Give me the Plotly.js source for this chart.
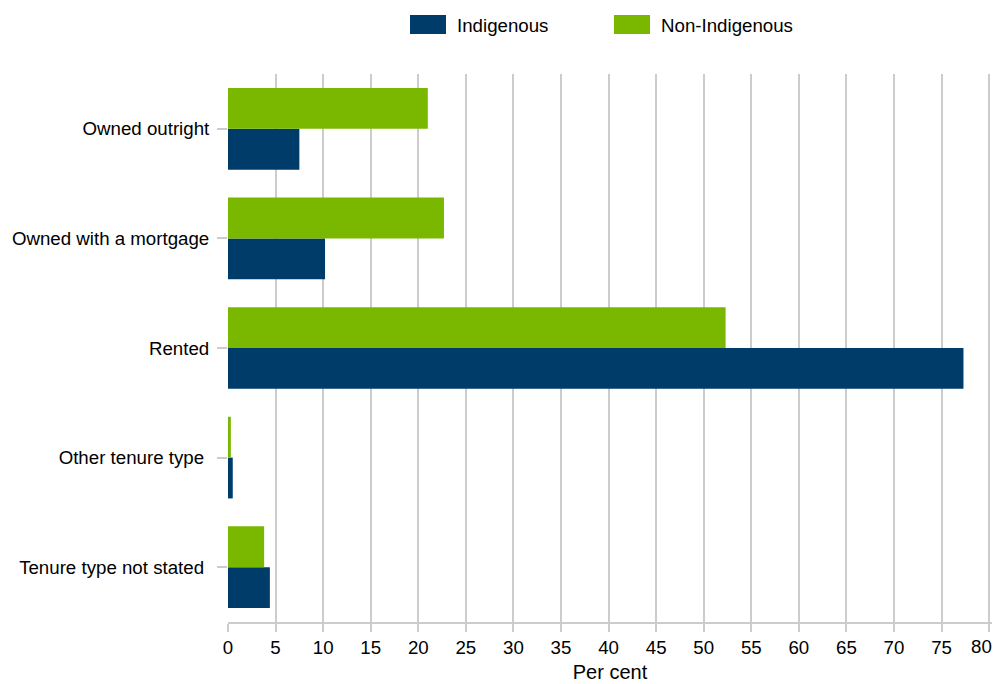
<!DOCTYPE html>
<html><head><meta charset="utf-8">
<script src="https://cdn.plot.ly/plotly-3.0.1.min.js"></script>
<style>html,body{margin:0;padding:0;background:#fff}#chart{width:998px;height:684px}</style>
</head><body><div id="chart"></div>
<script>
const categories = ["Owned outright", "Owned with a mortgage", "Rented", "Other tenure type", "Tenure type not stated"];
const categoryLabels = ["Owned outright", "Owned with a mortgage", "Rented", "Other tenure type\u00a0", "Tenure type not stated\u00a0"];
const seriesNames = ["Indigenous", "Non-Indigenous"];
const seriesColors = ["#003C69", "#7AB800"];
const indigenous = [7.5, 10.2, 77.3, 0.5, 4.4];
const nonIndigenous = [21.0, 22.7, 52.3, 0.3, 3.8];
const xTicks = [0,5,10,15,20,25,30,35,40,45,50,55,60,65,70,75,80];
const lastTick = xTicks[xTicks.length - 1];
// the last label is drawn as an annotation nudged left so it stays inside the page (as in the reference)
const xTickLabels = xTicks.map(v => v === lastTick ? '' : String(v));

const W = 998, H = 684, M = {l:228, r:6, t:74, b:62};
const pw = W - M.l - M.r, ph = H - M.t - M.b;
const px2x = p => (p - M.l) / pw;
const py2y = p => (H - M.b - p) / ph;

const traces = [
  {type:'bar', orientation:'h', name:seriesNames[0], y:categories, x:indigenous, marker:{color:seriesColors[0]}},
  {type:'bar', orientation:'h', name:seriesNames[1], y:categories, x:nonIndigenous, marker:{color:seriesColors[1]}}
];

// legend drawn as swatches + labels (larger swatches like the reference)
const legendSwatchLeft = [410, 614];
const shapes = [], annotations = [];
seriesNames.forEach((n, i) => {
  const x0 = legendSwatchLeft[i];
  shapes.push({type:'rect', xref:'paper', yref:'paper', x0:px2x(x0), x1:px2x(x0+36), y0:py2y(34), y1:py2y(15),
    fillcolor:seriesColors[i], line:{width:0}});
  annotations.push({xref:'paper', yref:'paper', x:px2x(x0+45), y:py2y(25), xanchor:'left', yanchor:'middle',
    text:n, showarrow:false, font:{size:18.7, color:'#000'}});
});
annotations.push({xref:'x', yref:'paper', x:lastTick, y:py2y(646), xanchor:'right', yanchor:'middle', xshift:5,
  text:String(lastTick), showarrow:false, font:{size:18.7, color:'#000'}});

const layout = {
  width:W, height:H,
  margin:M,
  barmode:'group', bargap:0.255, bargroupgap:0,
  paper_bgcolor:'#fff', plot_bgcolor:'#fff',
  font:{family:'"Liberation Sans", Arial, sans-serif', size:18.7, color:'#000'},
  showlegend:false,
  shapes:shapes, annotations:annotations,
  xaxis:{range:[0,80.3], tickvals:xTicks, ticktext:xTickLabels, showgrid:true, gridcolor:'#cccccc', gridwidth:2,
    zeroline:false, showline:true, linecolor:'#cccccc', linewidth:2, ticks:'outside', ticklen:8, tickcolor:'#cccccc', tickwidth:2,
    title:{text:'Per cent', font:{size:20}, standoff:8}, fixedrange:true, automargin:false},
  yaxis:{type:'category', categoryorder:'array', categoryarray:categories.slice().reverse(),
    tickvals:categories, ticktext:categoryLabels, showgrid:false, zeroline:false,
    ticks:'outside', ticklen:10, tickcolor:'#cccccc', tickwidth:2, ticklabelstandoff:4, showline:false, fixedrange:true, automargin:false}
};
Plotly.newPlot('chart', traces, layout, {displayModeBar:false, staticPlot:true});
</script></body></html>
